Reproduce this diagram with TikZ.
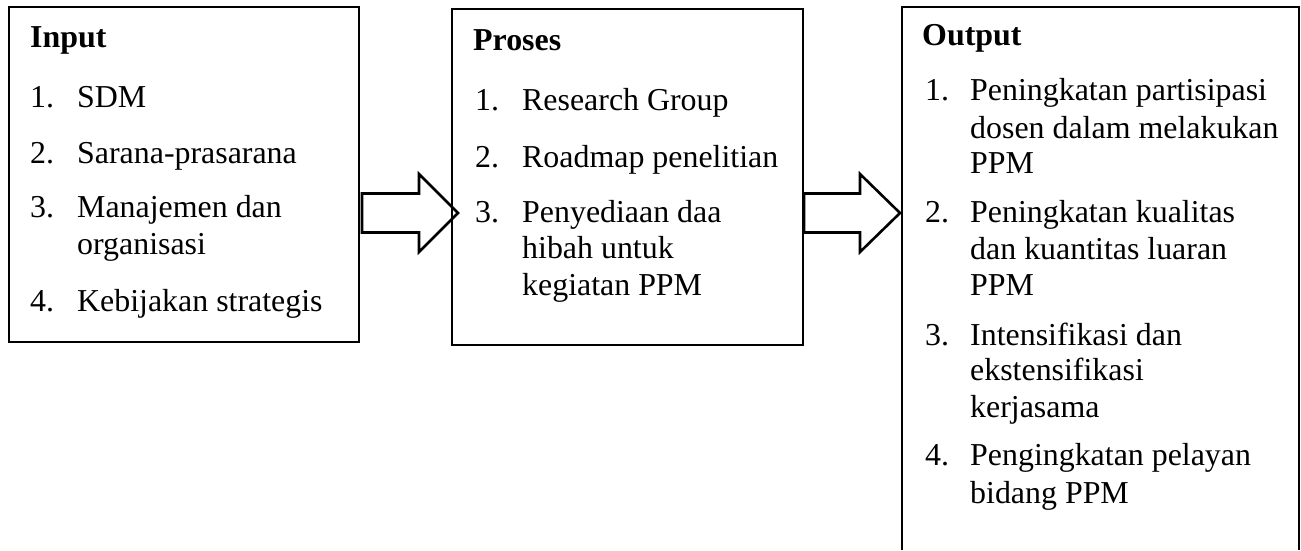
\documentclass[tikz,border=0pt]{standalone}
\usepackage{fontspec}
\setmainfont{Liberation Serif}
\begin{document}
\begin{tikzpicture}[x=1pt,y=-1pt,
  boxline/.style={draw, line width=1.5pt},
  box/.style={boxline, inner sep=0pt},
  head/.style={anchor=base west, inner sep=0pt, font=\fontsize{31.9}{36}\selectfont\bfseries},
  txt/.style={anchor=base west, inner sep=0pt, font=\fontsize{31.9}{36}\selectfont},
  blockarrow/.style={draw, line width=2.6pt, line join=miter}]
\useasboundingbox (0,0) rectangle (1301,550);
% boxes
\node[box, minimum width=350pt, minimum height=335pt] (in) at (184,174.5) {};
\node[box, minimum width=351pt, minimum height=336pt] (pr) at (627.5,177) {};
\node[inner sep=0pt, minimum width=397pt, minimum height=543pt] (out) at (1100.5,278.5) {};
\draw[boxline] (out.south west) -- (out.north west) -- (out.north east) -- (out.south east);
% block arrows
\coordinate (a1) at (362,213);
\coordinate (a2) at (804,213);
\draw[blockarrow] (a1) ++(0,-19.5) -- ++(57,0) -- ++(0,-19.5) -- ++(39,39) -- ++(-39,39) -- ++(0,-19.5) -- ++(-57,0) -- cycle;
\draw[blockarrow] (a2) ++(0,-19.5) -- ++(56,0) -- ++(0,-19.5) -- ++(40,39) -- ++(-40,39) -- ++(0,-19.5) -- ++(-56,0) -- cycle;
% Input
\node[head] (inh) at (30,47.5) {Input};
\node[txt] (in1n) at (30,107) {1.};
\node[txt] (in1) at (77,107) {SDM};
\node[txt] (in2n) at (30,163) {2.};
\node[txt] (in2) at (77,163) {Sarana-prasarana};
\node[txt] (in3n) at (30,217) {3.};
\node[txt] (in3) at (77,217) {Manajemen dan};
\node[txt] (in3b) at (77,254) {organisasi};
\node[txt] (in4n) at (30,311) {4.};
\node[txt] (in4) at (77,311) {Kebijakan strategis};
% Proses
\node[head] (prh) at (473,50) {Proses};
\node[txt] (pr1n) at (475,110) {1.};
\node[txt] (pr1) at (522,110) {Research Group};
\node[txt] (pr2n) at (475,167) {2.};
\node[txt] (pr2) at (522,167) {Roadmap penelitian};
\node[txt] (pr3n) at (475,222) {3.};
\node[txt] (pr3) at (522,222) {Penyediaan daa};
\node[txt] (pr3b) at (522,258) {hibah untuk};
\node[txt] (pr3c) at (522,295) {kegiatan PPM};
% Output
\node[head] (outh) at (922,45) {Output};
\node[txt] (o1n) at (925,100) {1.};
\node[txt] (o1) at (970,100) {Peningkatan partisipasi};
\node[txt] (o1b) at (970,138) {dosen dalam melakukan};
\node[txt] (o1c) at (970,173) {PPM};
\node[txt] (o2n) at (925,222) {2.};
\node[txt] (o2) at (970,222) {Peningkatan kualitas};
\node[txt] (o2b) at (970,259) {dan kuantitas luaran};
\node[txt] (o2c) at (970,295) {PPM};
\node[txt] (o3n) at (925,345) {3.};
\node[txt] (o3) at (970,345) {Intensifikasi dan};
\node[txt] (o3b) at (970,380) {ekstensifikasi};
\node[txt] (o3c) at (970,417) {kerjasama};
\node[txt] (o4n) at (925,465) {4.};
\node[txt] (o4) at (970,465) {Pengingkatan pelayan};
\node[txt] (o4b) at (970,503) {bidang PPM};
\end{tikzpicture}
\end{document}
